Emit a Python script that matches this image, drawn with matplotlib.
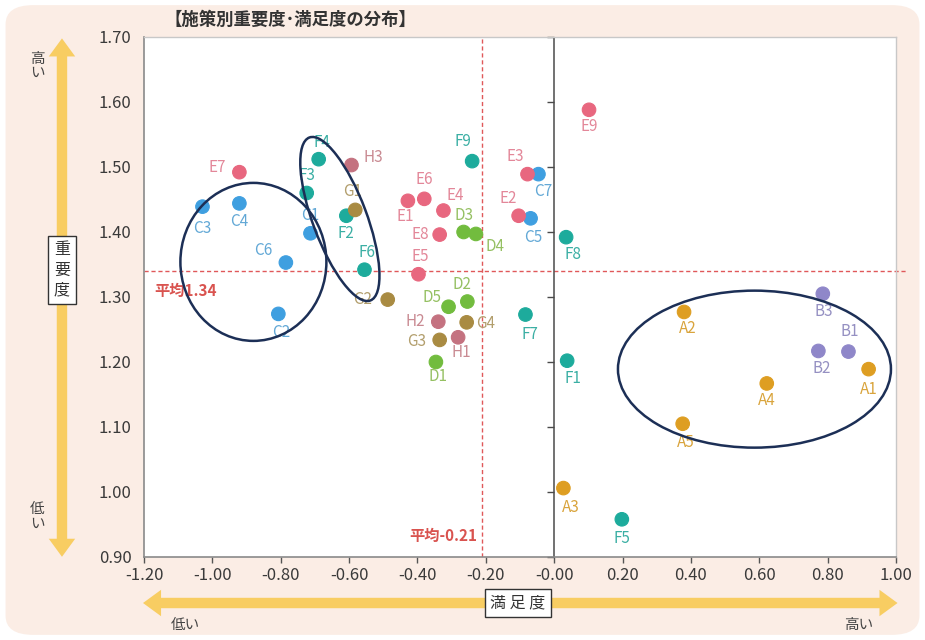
import matplotlib
matplotlib.use('Agg')
import matplotlib.pyplot as plt
from matplotlib.patches import Ellipse, FancyBboxPatch, FancyArrowPatch
from matplotlib.transforms import ScaledTranslation
import numpy as np

plt.rcParams['font.family'] = ['Noto Sans CJK JP', 'DejaVu Sans']

# 施策コード・満足度・重要度
names = ['A1', 'A2', 'A3', 'A4', 'A5',
         'B1', 'B2', 'B3',
         'C1', 'C2', 'C3', 'C4', 'C5', 'C6', 'C7',
         'D1', 'D2', 'D3', 'D4', 'D5',
         'E1', 'E2', 'E3', 'E4', 'E5', 'E6', 'E7', 'E8', 'E9',
         'F1', 'F2', 'F3', 'F4', 'F5', 'F6', 'F7', 'F8', 'F9',
         'G1', 'G2', 'G3', 'G4',
         'H1', 'H2', 'H3']
satisfaction = [0.92, 0.38, 0.027, 0.622, 0.376,
                0.861, 0.773, 0.786,
                -0.713, -0.807, -1.029, -0.921, -0.069, -0.785, -0.046,
                -0.346, -0.254, -0.265, -0.229, -0.309,
                -0.428, -0.104, -0.078, -0.324, -0.397, -0.38, -0.921, -0.335, 0.102,
                0.038, -0.608, -0.724, -0.689, 0.198, -0.555, -0.084, 0.035, -0.24,
                -0.582, -0.487, -0.335, -0.256,
                -0.281, -0.339, -0.593]
importance = [1.189, 1.277, 1.006, 1.167, 1.105,
              1.216, 1.217, 1.305,
              1.398, 1.274, 1.439, 1.444, 1.421, 1.353, 1.489,
              1.200, 1.293, 1.400, 1.397, 1.285,
              1.448, 1.425, 1.489, 1.433, 1.335, 1.451, 1.492, 1.396, 1.588,
              1.202, 1.425, 1.460, 1.512, 0.958, 1.342, 1.273, 1.392, 1.509,
              1.434, 1.296, 1.234, 1.261,
              1.238, 1.262, 1.503]
mean_sat = -0.21
mean_imp = 1.34

xticks = np.arange(-1.2, 1.001, 0.2)
yticks = np.arange(0.9, 1.701, 0.1)

# グループ別の色 (点, ラベル)
point_colors = {'A': '#DE9E22', 'B': '#8F87C9', 'C': '#3F9FE0', 'D': '#72BC3E',
                'E': '#E8677F', 'F': '#1DAB9C', 'G': '#A98B42', 'H': '#C47280'}
label_colors = {'A': '#D9A43C', 'B': '#9590C2', 'C': '#62A8D6', 'D': '#95C062',
                'E': '#E38799', 'F': '#3BAFA4', 'G': '#B29E6C', 'H': '#C98A92'}

# ラベル位置 (点からのずれ, px, 下向き正)
label_offset = {
    'A1': (0, 20), 'A2': (4, 17), 'A3': (7, 19), 'A4': (0, 17), 'A5': (3, 19),
    'B1': (1, -20), 'B2': (3, 18), 'B3': (1, 18),
    'C1': (0, -18), 'C2': (3, 19), 'C3': (0, 22), 'C4': (0, 18), 'C5': (3, 19),
    'C6': (-23, -12), 'C7': (5, 17),
    'D1': (2, 15), 'D2': (-5, -17), 'D3': (0, -16), 'D4': (19, 13), 'D5': (-17, -9),
    'E1': (-3, 16), 'E2': (-10, -17), 'E3': (-12, -18), 'E4': (12, -15),
    'E5': (2, -18), 'E6': (0, -19), 'E7': (-22, -5), 'E8': (-19, 0), 'E9': (0, 17),
    'F1': (6, 18), 'F2': (0, 18), 'F3': (0, -17), 'F4': (3, -17), 'F5': (0, 19),
    'F6': (2, -17), 'F7': (4, 20), 'F8': (7, 17), 'F9': (-9, -20),
    'G1': (-3, -18), 'G2': (-25, 0), 'G3': (-23, 2), 'G4': (19, 1),
    'H1': (3, 15), 'H2': (-23, 0), 'H3': (22, -8),
}

fig = plt.figure(figsize=(9.25, 6.4), dpi=100)
fig.patch.set_facecolor('white')
fig.patches.append(FancyBboxPatch((0.006, 0.008), 0.988, 0.984,
                                  boxstyle='round,pad=0,rounding_size=0.03',
                                  transform=fig.transFigure, facecolor='#FBEDE5',
                                  edgecolor='none', zorder=-10))

ax = fig.add_axes([0.1557, 0.1297, 0.8129, 0.8125])
ax.set_facecolor('white')
ax.set_xlim(-1.2, 1.0)
ax.set_ylim(0.9, 1.7)
ax.set_xticks(xticks)
ax.set_yticks(yticks)
ax.set_xticklabels([f'{v:.2f}' for v in xticks])
ax.set_yticklabels([f'{v:.2f}' for v in yticks])
ax.tick_params(axis='x', direction='out', length=4, width=1, color='#555555',
               labelsize=12, labelcolor='#3A3A3A', pad=3)
ax.tick_params(axis='y', length=0, labelsize=12, labelcolor='#3A3A3A', pad=9)
for side in ['left', 'bottom']:
    ax.spines[side].set_color('#8A8A8A')
    ax.spines[side].set_linewidth(1.2)
for side in ['top', 'right']:
    ax.spines[side].set_color('#C8C8C8')
    ax.spines[side].set_linewidth(1.0)

# 満足度0の軸線と目盛
ax.axvline(0, color='#4A4A4A', lw=1.1, zorder=2)
ax.plot(np.zeros(len(yticks)), yticks, ls='none', marker=0, ms=5, mew=1,
        color='#4A4A4A', clip_on=False, zorder=2)

# 平均線
ax.plot([-1.2, 1.03], [mean_imp, mean_imp], color='#E0585A', lw=1,
        ls=(0, (3, 2)), clip_on=False, zorder=1)
ax.axvline(mean_sat, color='#E0585A', lw=1, ls=(0, (3, 2)), zorder=1)
ax.text(-1.17, mean_imp - 0.018, f'平均{mean_imp:.2f}', color='#D9534F',
        fontsize=11, fontweight='bold', ha='left', va='top')
ax.text(mean_sat - 0.015, 0.92, f'平均{mean_sat:.2f}', color='#D9534F',
        fontsize=11, fontweight='bold', ha='right', va='bottom')

# 散布図
groups = [n[0] for n in names]
ax.scatter(satisfaction, importance, s=95,
           c=[point_colors[g] for g in groups],
           edgecolors=[point_colors[g] for g in groups], linewidths=0.8, zorder=4)
for n, xv, yv, g in zip(names, satisfaction, importance, groups):
    dx, dy = label_offset[n]
    ax.annotate(n, (xv, yv), xytext=(dx * 0.72, -dy * 0.72),
                textcoords='offset points', ha='center', va='center',
                fontsize=11, color=label_colors[g], zorder=5)

# 囲み楕円 (中心はデータ座標, 大きさはインチ)
def ring(cx, cy, w, h, angle=0):
    tr = fig.dpi_scale_trans + ScaledTranslation(cx, cy, ax.transData)
    ax.add_patch(Ellipse((0, 0), w, h, angle=angle, transform=tr, fill=False,
                         edgecolor='#1C2F56', lw=1.8, zorder=6))

ring(-0.880, 1.354, 1.46, 1.58)
ring(-0.627, 1.420, 1.74, 0.54, angle=-69.5)
ring(0.586, 1.189, 2.73, 1.57)

# タイトル
fig.text(0.178, 0.969, '【施策別重要度･満足度の分布】', fontsize=12.5,
         fontweight='bold', color='#333333', ha='left', va='center')

# 軸の矢印
arrow_color = '#F8CD62'
style = 'simple,head_length=1.3,head_width=1.9,tail_width=0.75'

def double_arrow(p0, p1):
    mid = ((p0[0] + p1[0]) / 2, (p0[1] + p1[1]) / 2)
    for end in (p0, p1):
        fig.patches.append(FancyArrowPatch(mid, end, arrowstyle=style,
                                           mutation_scale=10, color=arrow_color,
                                           lw=0, transform=fig.transFigure,
                                           shrinkA=0, shrinkB=0))

double_arrow((0.067, 0.940), (0.067, 0.130))
double_arrow((0.1546, 0.0578), (0.9703, 0.0578))

box = dict(boxstyle='square,pad=0.35', facecolor='white', edgecolor='#333333', lw=1)
fig.text(0.067, 0.578, '重\n要\n度', fontsize=11.5, color='#333333', ha='center',
         va='center', linespacing=1.25, bbox=box)
fig.text(0.560, 0.0578, '満 足 度', fontsize=11.5, color='#333333', ha='center',
         va='center', bbox=box)

fig.text(0.040, 0.897, '高\nい', fontsize=10.5, color='#444444', ha='center',
         va='center', linespacing=1.0)
fig.text(0.040, 0.193, '低\nい', fontsize=10.5, color='#444444', ha='center',
         va='center', linespacing=1.0)
fig.text(0.200, 0.023, '低い', fontsize=10.5, color='#444444', ha='center', va='center')
fig.text(0.928, 0.023, '高い', fontsize=10.5, color='#444444', ha='center', va='center')

fig.savefig('out.png', dpi=100, facecolor=fig.get_facecolor())
